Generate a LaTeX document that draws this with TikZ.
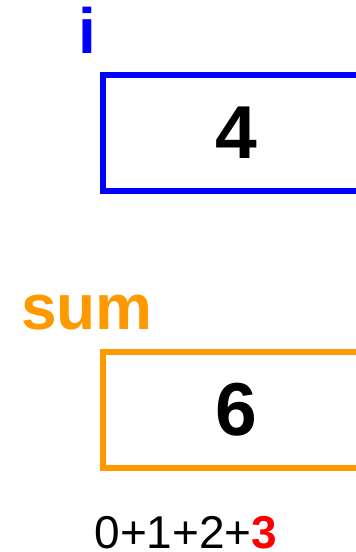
\documentclass[tikz,border=0pt]{standalone}
\usepackage{fontspec}
\setmainfont{Liberation Sans}
\usepackage{xcolor}
\usepackage{tikz}

\definecolor{varblue}{RGB}{0,0,255}
\definecolor{varorange}{RGB}{255,153,0}
\definecolor{lastred}{RGB}{255,0,0}

\begin{document}
\begin{tikzpicture}[x=1pt,y=1pt,yscale=-1,xscale=1,
    varbox/.style={line width=6, minimum width=266, minimum height=116, inner sep=0, font=\fontsize{75}{75}\selectfont\bfseries},
    varname/.style={anchor=base west, inner sep=0, font=\fontsize{64}{64}\selectfont\bfseries}]
        \clip (0,0) rectangle (356,552); %picture is 356 wide, 552 high

        % Variable i
        \node (iname) [varname, text=varblue] at (78,53) {i};
        \node (ibox) [varbox, draw=varblue] at (236,133) {4};

        % Variable sum
        \node (sumname) [varname, text=varorange] at (21,329) {sum};
        \node (sumbox) [varbox, draw=varorange] at (236,409.5) {\raisebox{-6pt}{6}};

        % Text Node
        \node (sumterms) [anchor=base, inner sep=0, font=\fontsize{46}{46}\selectfont] at (186,548) {0+1+2+\textcolor{lastred}{\bfseries 3}};

    \end{tikzpicture}
\end{document}
